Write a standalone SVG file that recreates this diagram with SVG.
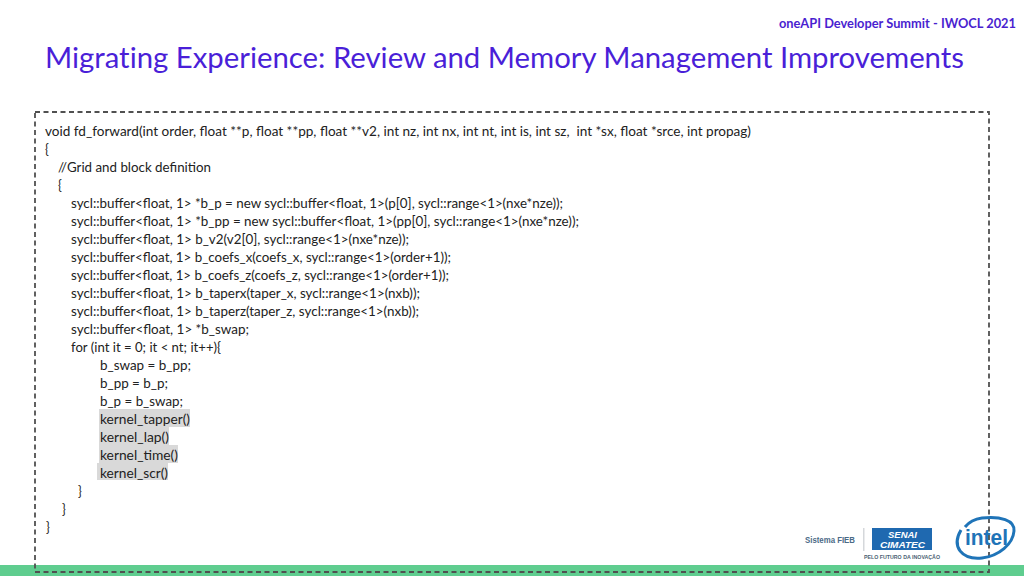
<svg xmlns="http://www.w3.org/2000/svg" width="1024" height="576" viewBox="0 0 1024 576">
<style>
.c{font-family:Lato,"Liberation Sans",sans-serif;font-size:12.6px;fill:#222}
.h{fill:#d9d9d9}
</style>
<rect width="1024" height="576" fill="#fff"/>
<rect x="0" y="565" width="1024" height="11" fill="#5fcd8f"/>
<text x="779" y="28" textLength="237" lengthAdjust="spacingAndGlyphs" font-family="Lato,sans-serif" font-weight="700" font-size="13" fill="#4a1fd0">oneAPI Developer Summit - IWOCL 2021</text>
<text x="45" y="68" textLength="919" lengthAdjust="spacingAndGlyphs" font-family="Lato,sans-serif" font-size="29" fill="#4a1fd8" style="font-variant-ligatures:none">Migrating Experience: Review and Memory Management Improvements</text>
<rect x="35" y="112" width="954" height="460" fill="none" stroke="#505050" stroke-width="1.800" stroke-dasharray="5 3.500"/>
<g id="highlights">
<rect class="h" x="99" y="409" width="91" height="18"/>
<rect class="h" x="99" y="427" width="70" height="18"/>
<rect class="h" x="99" y="445" width="79" height="18"/>
<rect class="h" x="97" y="463" width="71" height="17"/>
</g>
<g id="code">
<text class="c" x="45" y="136" textLength="706" lengthAdjust="spacingAndGlyphs" xml:space="preserve">void fd_forward(int order, float **p, float **pp, float **v2, int nz, int nx, int nt, int is, int sz,  int *sx, float *srce, int propag)</text>
<text class="c" x="45" y="154">{</text>
<text class="c" x="58" y="172" textLength="153" lengthAdjust="spacingAndGlyphs">//Grid and block definition</text>
<text class="c" x="58" y="190">{</text>
<text class="c" x="71" y="208" textLength="492" lengthAdjust="spacingAndGlyphs">sycl::buffer&lt;float, 1&gt; *b_p = new sycl::buffer&lt;float, 1&gt;(p[0], sycl::range&lt;1&gt;(nxe*nze));</text>
<text class="c" x="71" y="226" textLength="508" lengthAdjust="spacingAndGlyphs">sycl::buffer&lt;float, 1&gt; *b_pp = new sycl::buffer&lt;float, 1&gt;(pp[0], sycl::range&lt;1&gt;(nxe*nze));</text>
<text class="c" x="71" y="244" textLength="338" lengthAdjust="spacingAndGlyphs">sycl::buffer&lt;float, 1&gt; b_v2(v2[0], sycl::range&lt;1&gt;(nxe*nze));</text>
<text class="c" x="71" y="262" textLength="380" lengthAdjust="spacingAndGlyphs">sycl::buffer&lt;float, 1&gt; b_coefs_x(coefs_x, sycl::range&lt;1&gt;(order+1));</text>
<text class="c" x="71" y="280" textLength="378" lengthAdjust="spacingAndGlyphs">sycl::buffer&lt;float, 1&gt; b_coefs_z(coefs_z, sycl::range&lt;1&gt;(order+1));</text>
<text class="c" x="71" y="298" textLength="349" lengthAdjust="spacingAndGlyphs">sycl::buffer&lt;float, 1&gt; b_taperx(taper_x, sycl::range&lt;1&gt;(nxb));</text>
<text class="c" x="71" y="316" textLength="348" lengthAdjust="spacingAndGlyphs">sycl::buffer&lt;float, 1&gt; b_taperz(taper_z, sycl::range&lt;1&gt;(nxb));</text>
<text class="c" x="71" y="334" textLength="178" lengthAdjust="spacingAndGlyphs">sycl::buffer&lt;float, 1&gt; *b_swap;</text>
<text class="c" x="71" y="352" textLength="150" lengthAdjust="spacingAndGlyphs">for (int it = 0; it &lt; nt; it++){</text>
<text class="c" x="100" y="370" textLength="91" lengthAdjust="spacingAndGlyphs">b_swap = b_pp;</text>
<text class="c" x="100" y="388" textLength="68" lengthAdjust="spacingAndGlyphs">b_pp = b_p;</text>
<text class="c" x="100" y="406" textLength="83" lengthAdjust="spacingAndGlyphs">b_p = b_swap;</text>
<text class="c" x="100" y="424" textLength="90" lengthAdjust="spacingAndGlyphs">kernel_tapper()</text>
<text class="c" x="100" y="442" textLength="69" lengthAdjust="spacingAndGlyphs">kernel_lap()</text>
<text class="c" x="100" y="460" textLength="78" lengthAdjust="spacingAndGlyphs">kernel_time()</text>
<text class="c" x="100" y="478" textLength="68" lengthAdjust="spacingAndGlyphs">kernel_scr()</text>
<text class="c" x="78" y="496">}</text>
<text class="c" x="62" y="514">}</text>
<text class="c" x="46" y="532">}</text>
</g>
<g id="logos">
<text x="805" y="543" textLength="50" lengthAdjust="spacingAndGlyphs" font-family="Liberation Sans,sans-serif" font-weight="700" font-size="9" fill="#4b6a86">Sistema FIEB</text>
<rect x="863" y="528" width="1.500" height="23" fill="#d5d8db"/>
<rect x="872" y="528" width="60" height="22" fill="#1f69b0"/>
<text x="902.500" y="538" text-anchor="middle" textLength="29" lengthAdjust="spacingAndGlyphs" font-family="Liberation Sans,sans-serif" font-weight="700" font-style="italic" font-size="9.500" fill="#fff">SENAI</text>
<text x="902.500" y="548" text-anchor="middle" textLength="45" lengthAdjust="spacingAndGlyphs" font-family="Liberation Sans,sans-serif" font-weight="700" font-style="italic" font-size="9.500" fill="#fff">CIMATEC</text>
<text x="864" y="559" textLength="76" lengthAdjust="spacingAndGlyphs" font-family="Liberation Sans,sans-serif" font-weight="700" font-size="5.500" fill="#4b5f73">PELO FUTURO DA INOVAÇÃO</text>
<path d="M961 530C951 547 962 560 982 558C999 556 1013 544 1014 531C1015 520 1000 516 982 518C975 519 969 522 965 527" fill="none" stroke="#1f74b8" stroke-width="3"/>
<text x="965" y="545" textLength="43" lengthAdjust="spacingAndGlyphs" font-family="Liberation Sans,sans-serif" font-weight="700" font-size="22" fill="#1f74b8">intel</text>
</g>
</svg>
